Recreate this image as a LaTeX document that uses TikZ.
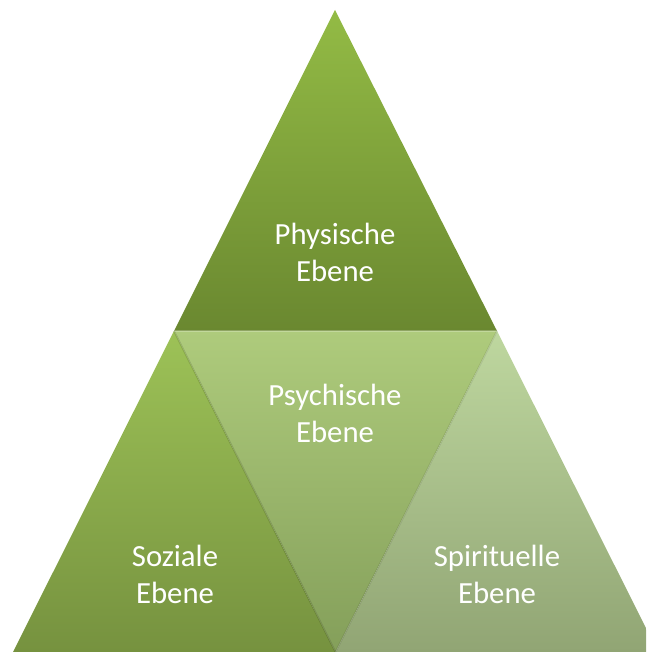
\documentclass[tikz,border=0pt]{standalone}
\usepackage{fontspec}
\setmainfont{Carlito}
\usetikzlibrary{calc}

\definecolor{physTop}{HTML}{93BB45}
\definecolor{physBot}{HTML}{6A8830}
\definecolor{sozTop}{HTML}{9DC257}
\definecolor{sozBot}{HTML}{76923F}
\definecolor{psyTop}{HTML}{AECB7C}
\definecolor{psyBot}{HTML}{849F5A}
\definecolor{spiTop}{HTML}{BED79F}
\definecolor{spiBot}{HTML}{91A574}

\tikzset{
  ebene/.style={text=white,align=center,font=\fontsize{17.5}{21}\selectfont},
  kante/.style={draw=white,draw opacity=0.25,line width=0.6pt}
}

\begin{document}
\begin{tikzpicture}[x=0.02cm,y=0.02cm]
      \useasboundingbox (0,0) rectangle (646,652);
      \clip (0,0) rectangle (646,652);
      % corners of the big triangle and the midpoints of its sides
      \coordinate (apex) at (335,642);
      \coordinate (midL) at (174,321);
      \coordinate (midR) at (497,321);
      \coordinate (botL) at (13,0);
      \coordinate (botM) at (335.5,0);
      \coordinate (botR) at (658,0);
      % inverted triangle in the middle
      \shade [top color=psyTop,bottom color=psyBot] (midL) -- (midR) -- (botM) -- cycle;
      % top triangle
      \shade [top color=physTop,bottom color=physBot] (apex) -- (midR) -- (midL) -- cycle;
      \draw [kante] (midL) -- (midR);
      % left triangle
      \shade [top color=sozTop,bottom color=sozBot] (midL) -- (botM) -- (botL) -- cycle;
      \draw [draw=black,draw opacity=0.12,line width=1pt] (midL) -- (botM);
      % right triangle
      \shade [top color=spiTop,bottom color=spiBot] (midR) -- (botR) -- (botM) -- cycle;
      \draw [draw=black,draw opacity=0.08,line width=1pt] (midR) -- (botM);
      % labels
      \node [ebene] (phys) at (335,400) {Physische\\Ebene};
      \node [ebene] (psych) at (335,239) {Psychische\\Ebene};
      \node [ebene] (soz) at (175,78) {Soziale\\Ebene};
      \node [ebene] (spir) at (497,78) {Spirituelle\\Ebene};
    \end{tikzpicture}
\end{document}
